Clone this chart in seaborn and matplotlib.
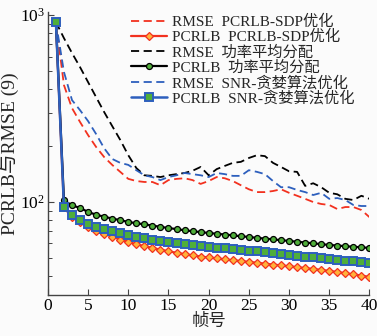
import matplotlib
matplotlib.use("Agg")
import matplotlib.pyplot as plt
import seaborn as sns
import numpy as np

frames = list(range(1, 41))

rmse_sdp = [918, 422, 318, 268, 228, 197, 174, 158, 145, 133, 129.5, 128, 128, 123, 131, 133, 134, 131, 125, 129.5,
            136, 134, 129.5, 123, 117, 113, 113, 114.5, 117, 112, 108, 104, 100, 97.6, 96.4, 91.7, 94, 94, 90.6, 83]
pcrlb_sdp = [918, 93.5, 83, 78, 73.5, 70, 67.5, 65.3, 63, 61.1, 59.5, 58.1, 56.8, 55.6, 54.5, 53.5, 52.6, 51.8, 51.1, 50.5,
             49.9, 49.3, 48.8, 48.3, 47.8, 47.3, 46.8, 46.3, 45.8, 45.3, 44.8, 44.3, 43.8, 43.3, 42.8, 42.2, 41.6, 41.0, 40.4, 39.7]
rmse_avg = [918, 753, 627, 527, 438, 364, 303, 255, 215, 178, 152, 139, 138, 136, 139, 141, 143, 147, 154, 139,
            150, 156, 162, 164, 172, 178, 176, 162, 154, 146, 145, 122, 126, 120, 112, 110, 104, 102.5, 108, 104]
pcrlb_avg = [918, 102, 96, 93, 88.5, 85.5, 83.5, 81.5, 80, 78.2, 77, 76, 74.8, 73.6, 72.6, 71.6, 70.6, 69.8, 69, 68.3,
             67.6, 67, 66.3, 65.6, 65, 64.3, 63.7, 63.1, 62.5, 61.9, 61.3, 60.7, 60.1, 59.5, 58.9, 58.5, 58.0, 57.6, 57.2, 56.8]
rmse_snr = [918, 496, 351, 310, 271, 231, 194, 170, 162, 158, 148, 139, 136, 131, 136, 139, 143, 141, 139, 136,
            143, 141, 138, 138, 148, 145, 141, 129.5, 120, 120, 116, 113, 109, 112, 104, 105, 102.5, 96.4, 95.2, 95.2]
pcrlb_snr = [918, 94, 85, 80, 76.3, 73.5, 71.5, 69.7, 68, 66.6, 65.3, 64.2, 63, 62, 61.1, 60.3, 59.5, 58.8, 58.1, 57.5,
             57, 56.4, 55.9, 55.4, 55, 54.4, 53.8, 53.2, 52.6, 52.1, 51.6, 51.1, 50.6, 50.1, 49.6, 49.1, 48.6, 48.1, 47.6, 47.2]

labels = ["RMSE  PCRLB-SDP优化", "PCRLB  PCRLB-SDP优化", "RMSE  功率平均分配",
          "PCRLB  功率平均分配", "RMSE  SNR-贪婪算法优化", "PCRLB  SNR-贪婪算法优化"]
xticks = [0, 5, 10, 15, 20, 25, 30, 35, 40]

sns.set_style("ticks")
plt.rcParams['font.family'] = ['Liberation Serif', 'Noto Sans CJK SC']
plt.rcParams['mathtext.fontset'] = 'stix'

RED = '#f2311f'
BLUE = '#2d5fbd'
GREEN = '#4fae3a'
ORANGE = '#ffb23a'

fig = plt.figure(figsize=(3.77, 3.36), dpi=100)
fig.patch.set_facecolor('#fbfbfb')
ax = fig.add_axes([0.127, 0.122, 0.853, 0.842])
ax.set_facecolor('#fbfbfb')

dash = (0, (4.5, 2.5))
sns.lineplot(x=frames, y=rmse_sdp, ax=ax, color=RED, linestyle=dash, linewidth=1.3, label=labels[0])
sns.lineplot(x=frames, y=pcrlb_sdp, ax=ax, color=RED, linewidth=1.6, marker='D', markersize=4.2,
             markerfacecolor=ORANGE, markeredgecolor=RED, markeredgewidth=0.9, label=labels[1])
sns.lineplot(x=frames, y=rmse_avg, ax=ax, color='black', linestyle=dash, linewidth=1.3, label=labels[2])
sns.lineplot(x=frames, y=pcrlb_avg, ax=ax, color='black', linewidth=1.6, marker='o', markersize=4.3,
             markerfacecolor=GREEN, markeredgecolor='black', markeredgewidth=0.9, label=labels[3])
sns.lineplot(x=frames, y=rmse_snr, ax=ax, color=BLUE, linestyle=dash, linewidth=1.3, label=labels[4])
sns.lineplot(x=frames, y=pcrlb_snr, ax=ax, color=BLUE, linewidth=1.8, marker='s', markersize=5.2,
             markerfacecolor=GREEN, markeredgecolor=BLUE, markeredgewidth=1.4, label=labels[5])

ax.set_yscale('log')
ax.set_ylim(31.8, 1038)
ax.set_xlim(0, 40)
ax.set_xticks(xticks)
ax.set_xticklabels([str(t) for t in xticks])

for s in ['top', 'right']:
    ax.spines[s].set_visible(False)
for s in ['left', 'bottom']:
    ax.spines[s].set_color('#444444')
    ax.spines[s].set_linewidth(1.0)

ax.tick_params(axis='both', which='major', direction='in', length=4, width=0.8,
               labelsize=12.5, colors='#444444', labelcolor='black', pad=2)
ax.tick_params(axis='y', which='minor', direction='in', length=3, width=0.7, colors='#444444')

ax.set_xlabel('帧号', fontsize=12.5, labelpad=0)
ax.set_ylabel('PCRLB与RMSE (9)', fontsize=14, labelpad=1)

leg = ax.legend(loc='upper left', bbox_to_anchor=(0.26, 0.99), frameon=False, fontsize=11,
                handlelength=2.3, handletextpad=0.35, labelspacing=0.05, borderpad=0, borderaxespad=0)

fig.savefig('out.png', dpi=100, facecolor=fig.get_facecolor())
